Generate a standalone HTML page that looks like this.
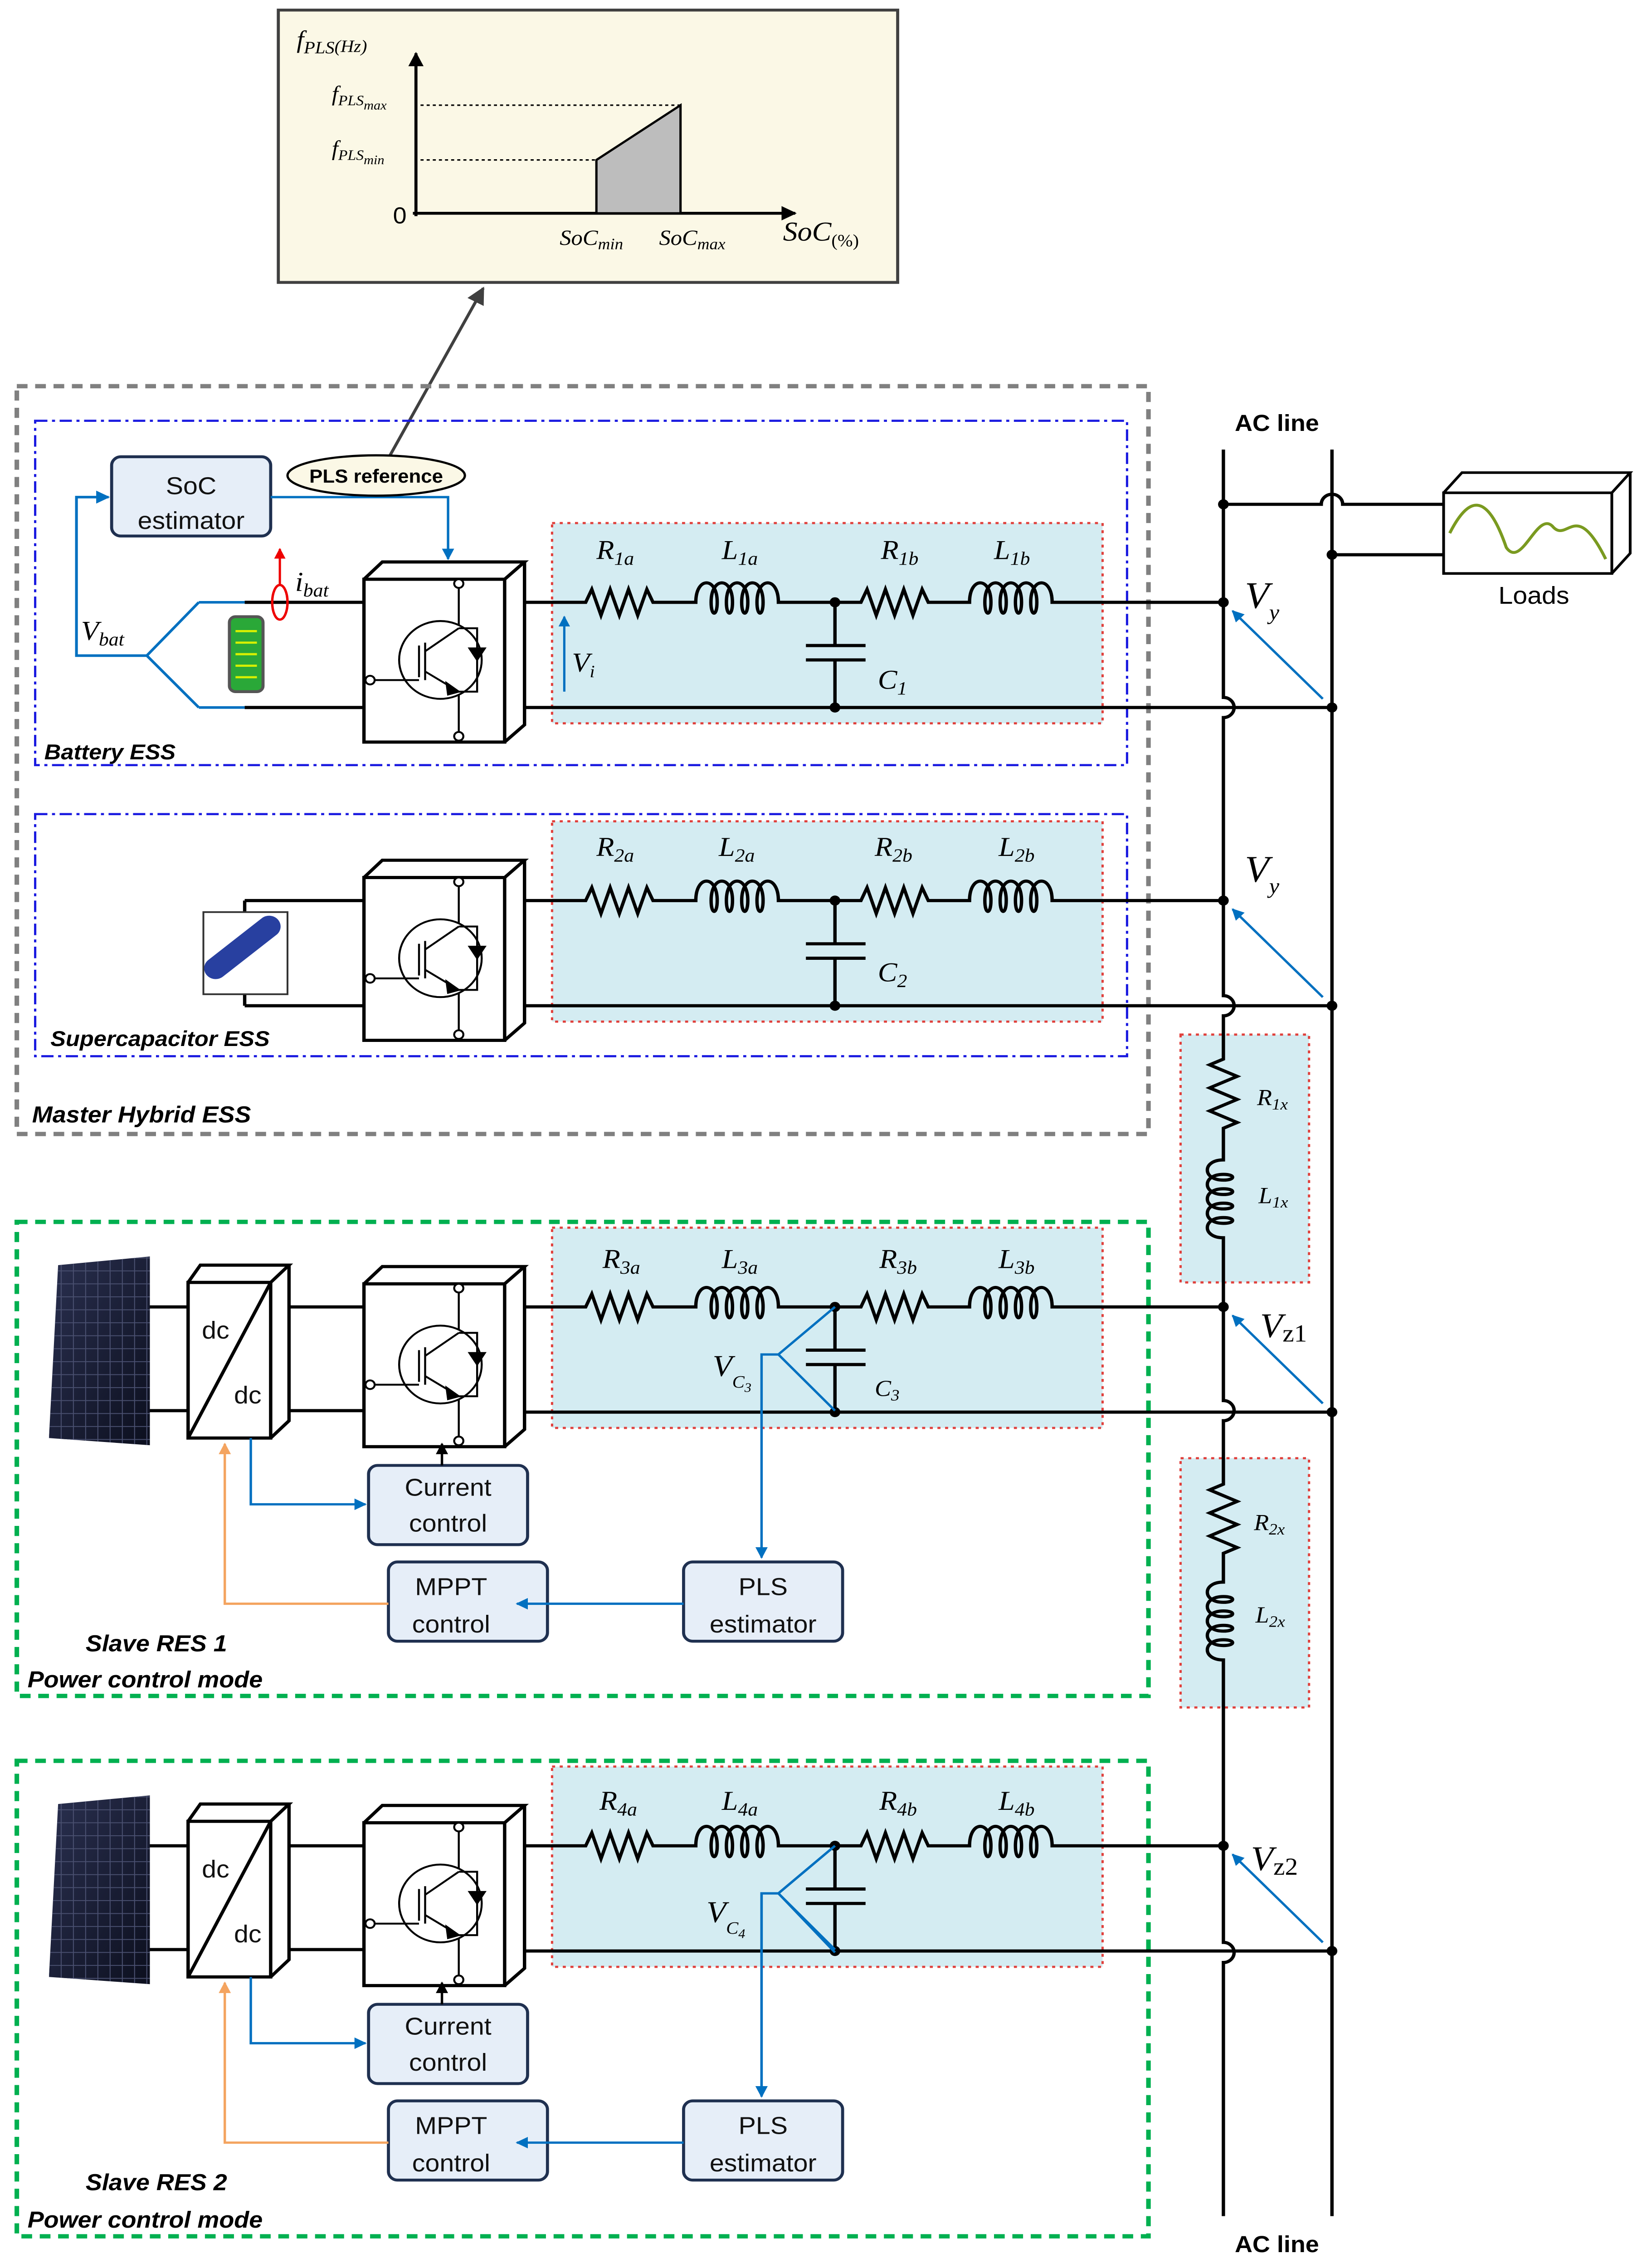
<!DOCTYPE html>
<html><head><meta charset="utf-8"><style>
html,body{margin:0;padding:0;background:#fff;width:100%;height:100%;overflow:hidden}
svg{display:block;position:fixed;left:0;top:0;width:100vw;height:100vh}
.m{font-family:"Liberation Serif",serif;font-style:italic}
.s{font-family:"Liberation Sans",sans-serif}
</style></head><body>
<svg viewBox="0 0 1077 1574" preserveAspectRatio="none" xmlns="http://www.w3.org/2000/svg">
<defs>
<marker id="ab" viewBox="0 0 10 10" refX="9" refY="5" markerWidth="5" markerHeight="5" orient="auto"><path d="M0,0L10,5L0,10z" fill="#0070c0"/></marker>
<marker id="ak" viewBox="0 0 10 10" refX="9" refY="5" markerWidth="5" markerHeight="5" orient="auto"><path d="M0,0L10,5L0,10z" fill="#000"/></marker>
<marker id="ao" viewBox="0 0 10 10" refX="9" refY="5" markerWidth="5" markerHeight="5" orient="auto"><path d="M0,0L10,5L0,10z" fill="#f4a460"/></marker>
<marker id="ar" viewBox="0 0 10 10" refX="9" refY="5" markerWidth="5" markerHeight="5" orient="auto"><path d="M0,0L10,5L0,10z" fill="#e00"/></marker>
<marker id="ag" viewBox="0 0 10 10" refX="9" refY="5" markerWidth="6" markerHeight="6" orient="auto"><path d="M0,0L10,5L0,10z" fill="#404040"/></marker>
<g id="inv" fill="none" stroke="#000" stroke-width="2.2">
<rect x="0" y="12" width="92" height="113" fill="#fff"/>
<path d="M0,12 L12,0 H105 L92,12 M105,0 V113 L92,125"/>
<g stroke-width="1.3">
<circle cx="50" cy="68" r="27"/>
<path d="M62,18 V44 M62,92 V118 M36,58 V80 M40,56 V82 M40,62 L62,46 M40,76 L62,90 M6,82 H36 M62,46 H74 V90 H62"/>
<path d="M69,60 H79 L74,68 Z" fill="#000"/>
<path d="M54,84 L62,90 L55,92 Z" fill="#000"/>
<circle cx="62" cy="15" r="3" fill="#fff"/><circle cx="62" cy="121" r="3" fill="#fff"/><circle cx="4" cy="82" r="3" fill="#fff"/>
</g>
</g>
<g id="row">
<rect x="361" y="363" width="360" height="139" fill="#d4ecf2" stroke="#e0403c" stroke-width="1.5" stroke-dasharray="2,3"/>
<g fill="none" stroke="#000" stroke-width="2.2">
<path d="M343,418 H383 l4,-9 l6,18 l6,-18 l6,18 l6,-18 l6,18 l6,-18 l4,9 H447 h8 c0,-18 14,-18 14,0 c0,10 -4,10 -4,0 c0,-18 14,-18 14,0 c0,10 -4,10 -4,0 c0,-18 14,-18 14,0 c0,10 -4,10 -4,0 c0,-18 14,-18 14,0 c0,10 -4,10 -4,0 c0,-18 14,-18 14,0 H563 l4,-9 l6,18 l6,-18 l6,18 l6,-18 l6,18 l6,-18 l4,9 H630 h4 c0,-18 14,-18 14,0 c0,10 -4,10 -4,0 c0,-18 14,-18 14,0 c0,10 -4,10 -4,0 c0,-18 14,-18 14,0 c0,10 -4,10 -4,0 c0,-18 14,-18 14,0 c0,10 -4,10 -4,0 c0,-18 14,-18 14,0 H800"/>
<path d="M343,491 H871"/>
<path d="M546,418 V448 M527,448 H566 M527,458 H566 M546,458 V491"/>
</g>
<circle cx="546" cy="418" r="3.5"/><circle cx="546" cy="491" r="3.5"/><circle cx="800" cy="418" r="3.5"/><circle cx="871" cy="491" r="3.5"/>
<use href="#inv" x="238" y="390"/>
<path d="M865,485 L806,424" stroke="#0070c0" stroke-width="1.6" marker-end="url(#ab)"/>
</g>
<g id="box"><rect width="104" height="55" rx="6" fill="#e6eef8" stroke="#1f3050" stroke-width="2"/></g>
<linearGradient id="pv" x1="0" y1="0" x2="1" y2="1"><stop offset="0" stop-color="#2a3050"/><stop offset="1" stop-color="#0c0f1e"/></linearGradient>
<pattern id="cells" width="8" height="9" patternUnits="userSpaceOnUse"><rect width="8" height="9" fill="none" stroke="#4a5070" stroke-width="0.6"/></pattern>
<g id="pvp"><path d="M38,878 L98,872 L98,1003 L32,998 Z" fill="url(#pv)"/><path d="M38,878 L98,872 L98,1003 L32,998 Z" fill="url(#cells)"/></g>
<g id="dcdc" fill="none" stroke="#000" stroke-width="2.2">
<rect x="123" y="890" width="54" height="108" fill="#fff"/>
<path d="M123,890 L131,878 H189 L177,890 M189,878 V986 L177,998 M123,998 L177,890"/>
</g>
<g id="resctl">
<use href="#pvp"/>
<path d="M98,907 H123 M98,979 H123 M189,907 H238 M189,979 H238" stroke="#000" stroke-width="2.2"/>
<use href="#dcdc"/>
<use href="#box" x="241" y="1017"/>
<use href="#box" x="254" y="1084"/>
<use href="#box" x="447" y="1084"/>
<path d="M289,1017 V1002" stroke="#000" stroke-width="1.6" marker-end="url(#ak)"/>
<path d="M164,998 V1044 H239" fill="none" stroke="#0070c0" stroke-width="1.6" marker-end="url(#ab)"/>
<path d="M447,1113 H338" fill="none" stroke="#0070c0" stroke-width="1.6" marker-end="url(#ab)"/>
<path d="M254,1113 H147 V1002" fill="none" stroke="#f4a460" stroke-width="1.6" marker-end="url(#ao)"/>
<path d="M546,907 L509,940 L546,979 M509,940 H498 V1081" fill="none" stroke="#0070c0" stroke-width="1.6" marker-end="url(#ab)"/>
</g>
</defs>

<rect x="182" y="7" width="405" height="189" fill="#fbf8e6" stroke="#404040" stroke-width="2"/>
<path d="M272,150 V37" stroke="#000" stroke-width="2" marker-end="url(#ak)"/>
<path d="M270,148 H520" stroke="#000" stroke-width="2" marker-end="url(#ak)"/>
<path d="M275,73 H445 M275,111 H390" stroke="#000" stroke-width="1" stroke-dasharray="2,2"/>
<path d="M390,148 V111 L445,73 V148 Z" fill="#bdbdbd" stroke="#000" stroke-width="1.5"/>
<text x="194" y="33" class="m" font-size="17" font-style="normal">f<tspan font-size="12" dy="4">PLS</tspan><tspan font-size="12" dy="-1">(Hz)</tspan></text>
<text x="217" y="70" class="m" font-size="15" font-style="normal">f<tspan font-size="10" dy="3">PLS</tspan><tspan font-size="9" dy="3">max</tspan></text>
<text x="217" y="108" class="m" font-size="15" font-style="normal">f<tspan font-size="10" dy="3">PLS</tspan><tspan font-size="9" dy="3">min</tspan></text>
<text x="257" y="155" class="s" font-size="16">0</text>
<text x="366" y="170" class="m" font-size="15">SoC<tspan font-size="11" dy="3">min</tspan></text>
<text x="431" y="170" class="m" font-size="15">SoC<tspan font-size="11" dy="3">max</tspan></text>
<text x="512" y="167" class="m" font-size="19">SoC<tspan font-size="12" dy="4" font-style="normal">(%)</tspan></text>
<path d="M254,318 L316,200" stroke="#404040" stroke-width="2" marker-end="url(#ag)"/>

<rect x="11" y="268" width="740" height="519" fill="none" stroke="#808080" stroke-width="3" stroke-dasharray="7,5"/>
<rect x="23" y="292" width="714" height="239" fill="none" stroke="#1a1ae0" stroke-width="1.5" stroke-dasharray="8,3,2,3"/>
<rect x="23" y="565" width="714" height="168" fill="none" stroke="#1a1ae0" stroke-width="1.5" stroke-dasharray="8,3,2,3"/>
<rect x="11" y="848" width="740" height="329" fill="none" stroke="#00b050" stroke-width="3" stroke-dasharray="7,5"/>
<rect x="11" y="1222" width="740" height="330" fill="none" stroke="#00b050" stroke-width="3" stroke-dasharray="7,5"/>

<rect x="772" y="718" width="84" height="172" fill="#d4ecf2" stroke="#e0403c" stroke-width="1.5" stroke-dasharray="2,3"/>
<rect x="772" y="1012" width="84" height="173" fill="#d4ecf2" stroke="#e0403c" stroke-width="1.5" stroke-dasharray="2,3"/>

<use href="#row"/>
<use href="#row" y="207"/>
<use href="#row" y="489"/>
<use href="#row" y="863"/>

<path d="M160,418 H238 M160,491 H238" stroke="#000" stroke-width="2.2"/>
<rect x="150" y="428" width="22" height="52" rx="4" fill="#2aa838" stroke="#555" stroke-width="2"/>
<path d="M154,438 H168 M154,446 H168 M154,454 H168 M154,462 H168 M154,470 H168" stroke="#d8f000" stroke-width="1.5"/>
<path d="M130,418 L96,455 L130,491 M96,455 H50 V345 H71" fill="none" stroke="#0070c0" stroke-width="1.8" marker-end="url(#ab)"/>
<path d="M130,418 H160 M130,491 H160" stroke="#0070c0" stroke-width="1.8"/>
<use href="#box" x="73" y="317"/>
<text x="125" y="343" class="s" font-size="17" text-anchor="middle" fill="#111">SoC</text>
<text x="125" y="367" class="s" font-size="17" text-anchor="middle" fill="#111">estimator</text>
<path d="M177,345 H293 V388" fill="none" stroke="#0070c0" stroke-width="1.6" marker-end="url(#ab)"/>
<ellipse cx="246" cy="330" rx="58" ry="14" fill="#fbf8e6" stroke="#000" stroke-width="1.5"/>
<text x="246" y="335" class="s" font-size="13" font-weight="bold" text-anchor="middle">PLS reference</text>
<ellipse cx="183" cy="418" rx="5" ry="12" fill="none" stroke="#e00" stroke-width="1.6"/>
<path d="M183,406 V381" stroke="#e00" stroke-width="1.5" marker-end="url(#ar)"/>
<text x="193" y="410" class="m" font-size="19">i<tspan font-size="13" dy="4">bat</tspan></text>
<text x="53" y="444" class="m" font-size="19">V<tspan font-size="13" dy="4">bat</tspan></text>
<path d="M369,480 V428" stroke="#0070c0" stroke-width="1.5" marker-end="url(#ab)"/>
<text x="374" y="466" class="m" font-size="19">V<tspan font-size="12" dy="4">i</tspan></text>
<text x="29" y="527" class="s" font-size="15" font-style="italic" font-weight="bold">Battery ESS</text>

<path d="M160,625 H238 M160,698 H238 M160,625 V634 M160,688 V698" stroke="#000" stroke-width="2.2" fill="none"/>
<rect x="133" y="633" width="55" height="57" fill="#fff" stroke="#333" stroke-width="1.2"/>
<path d="M141,672 L176,643" stroke="#2840a0" stroke-width="15" stroke-linecap="round"/>
<text x="33" y="726" class="s" font-size="15" font-style="italic" font-weight="bold">Supercapacitor ESS</text>
<text x="21" y="779" class="s" font-size="16" font-style="italic" font-weight="bold">Master Hybrid ESS</text>

<use href="#resctl"/>
<use href="#resctl" y="374"/>
<g class="s" font-size="17" text-anchor="middle" fill="#111">
<text x="132" y="929" text-anchor="start">dc</text><text x="153" y="974" text-anchor="start">dc</text>
<text x="293" y="1038">Current</text><text x="293" y="1063">control</text>
<text x="295" y="1107">MPPT</text><text x="295" y="1133">control</text>
<text x="499" y="1107">PLS</text><text x="499" y="1133">estimator</text>
<text x="132" y="1303" text-anchor="start">dc</text><text x="153" y="1348" text-anchor="start">dc</text>
<text x="293" y="1412">Current</text><text x="293" y="1437">control</text>
<text x="295" y="1481">MPPT</text><text x="295" y="1507">control</text>
<text x="499" y="1481">PLS</text><text x="499" y="1507">estimator</text>
</g>
<text x="56" y="1146" class="s" font-size="16" font-style="italic" font-weight="bold">Slave RES 1</text>
<text x="18" y="1171" class="s" font-size="16" font-style="italic" font-weight="bold">Power control mode</text>
<text x="56" y="1520" class="s" font-size="16" font-style="italic" font-weight="bold">Slave RES 2</text>
<text x="18" y="1546" class="s" font-size="16" font-style="italic" font-weight="bold">Power control mode</text>

<g class="m" font-size="19">
<text x="390" y="388">R<tspan font-size="13" dy="4">1a</tspan></text>
<text x="472" y="388">L<tspan font-size="13" dy="4">1a</tspan></text>
<text x="576" y="388">R<tspan font-size="13" dy="4">1b</tspan></text>
<text x="650" y="388">L<tspan font-size="13" dy="4">1b</tspan></text>
<text x="574" y="478">C<tspan font-size="13" dy="4">1</tspan></text>
<text x="390" y="594">R<tspan font-size="13" dy="4">2a</tspan></text>
<text x="470" y="594">L<tspan font-size="13" dy="4">2a</tspan></text>
<text x="572" y="594">R<tspan font-size="13" dy="4">2b</tspan></text>
<text x="653" y="594">L<tspan font-size="13" dy="4">2b</tspan></text>
<text x="574" y="681">C<tspan font-size="13" dy="4">2</tspan></text>
<text x="394" y="880">R<tspan font-size="13" dy="4">3a</tspan></text>
<text x="472" y="880">L<tspan font-size="13" dy="4">3a</tspan></text>
<text x="575" y="880">R<tspan font-size="13" dy="4">3b</tspan></text>
<text x="653" y="880">L<tspan font-size="13" dy="4">3b</tspan></text>
<text x="572" y="969" font-size="16">C<tspan font-size="11" dy="3">3</tspan></text>
<text x="466" y="955" font-size="21">V<tspan font-size="12" dy="8">C<tspan font-size="9" dy="3">3</tspan></tspan></text>
<text x="392" y="1256">R<tspan font-size="13" dy="4">4a</tspan></text>
<text x="472" y="1256">L<tspan font-size="13" dy="4">4a</tspan></text>
<text x="575" y="1256">R<tspan font-size="13" dy="4">4b</tspan></text>
<text x="653" y="1256">L<tspan font-size="13" dy="4">4b</tspan></text>
<text x="462" y="1334" font-size="21">V<tspan font-size="12" dy="8">C<tspan font-size="9" dy="3">4</tspan></tspan></text>
<text x="814" y="422" font-size="26">V<tspan font-size="15" dy="8">y</tspan></text>
<text x="814" y="612" font-size="26">V<tspan font-size="15" dy="8">y</tspan></text>
<text x="824" y="928" font-size="24">V<tspan font-size="17" dy="3" font-style="normal">z1</tspan></text>
<text x="818" y="1298" font-size="24">V<tspan font-size="17" dy="3" font-style="normal">z2</tspan></text>
<text x="822" y="767" font-size="16">R<tspan font-size="11" dy="3">1x</tspan></text>
<text x="823" y="835" font-size="16">L<tspan font-size="11" dy="3">1x</tspan></text>
<text x="820" y="1062" font-size="16">R<tspan font-size="11" dy="3">2x</tspan></text>
<text x="821" y="1126" font-size="16">L<tspan font-size="11" dy="3">2x</tspan></text>
</g>
<path d="M546,1281 L509,1314 L546,1355 M509,1314 H498 V1455" fill="none" stroke="#0070c0" stroke-width="1.6" marker-end="url(#ab)"/>

<g fill="none" stroke="#000" stroke-width="2.2">
<path d="M800,312 V484 A7,7 0 0 1 800,498 V691 A7,7 0 0 1 800,705 V735 l-9,4 l18,8 l-18,8 l18,8 l-18,8 l18,8 l-9,4 V805 c-14,0 -14,14 0,14 c8,0 8,-4 0,-4 c-14,0 -14,14 0,14 c8,0 8,-4 0,-4 c-14,0 -14,14 0,14 c8,0 8,-4 0,-4 c-14,0 -14,14 0,14 c8,0 8,-4 0,-4 c-14,0 -14,14 0,14 V972 A7,7 0 0 1 800,986 V1030 l-9,4 l18,8 l-18,8 l18,8 l-18,8 l18,8 l-9,4 V1098 c-14,0 -14,14 0,14 c8,0 8,-4 0,-4 c-14,0 -14,14 0,14 c8,0 8,-4 0,-4 c-14,0 -14,14 0,14 c8,0 8,-4 0,-4 c-14,0 -14,14 0,14 c8,0 8,-4 0,-4 c-14,0 -14,14 0,14 V1348 A7,7 0 0 1 800,1362 V1538"/>
<path d="M871,312 V1538"/>
<path d="M800,350 H864 A7,7 0 0 1 878,350 H944 M871,385 H944"/>
</g>
<circle cx="800" cy="350" r="3.5"/><circle cx="871" cy="385" r="3.5"/>
<text x="835" y="299" class="s" font-size="16" font-weight="bold" text-anchor="middle">AC line</text>
<text x="835" y="1563" class="s" font-size="16" font-weight="bold" text-anchor="middle">AC line</text>

<rect x="944" y="342" width="110" height="56" fill="#fff" stroke="#000" stroke-width="1.8"/>
<path d="M944,342 L956,328 H1066 L1054,342 M1066,328 V384 L1054,398" fill="none" stroke="#000" stroke-width="1.8"/>
<path d="M948,370 C960,345 972,340 985,380 C995,395 1005,355 1015,365 C1025,378 1030,345 1050,388" fill="none" stroke="#7a9a20" stroke-width="2"/>
<text x="1003" y="419" class="s" font-size="17" text-anchor="middle">Loads</text>
</svg>
</body></html>
